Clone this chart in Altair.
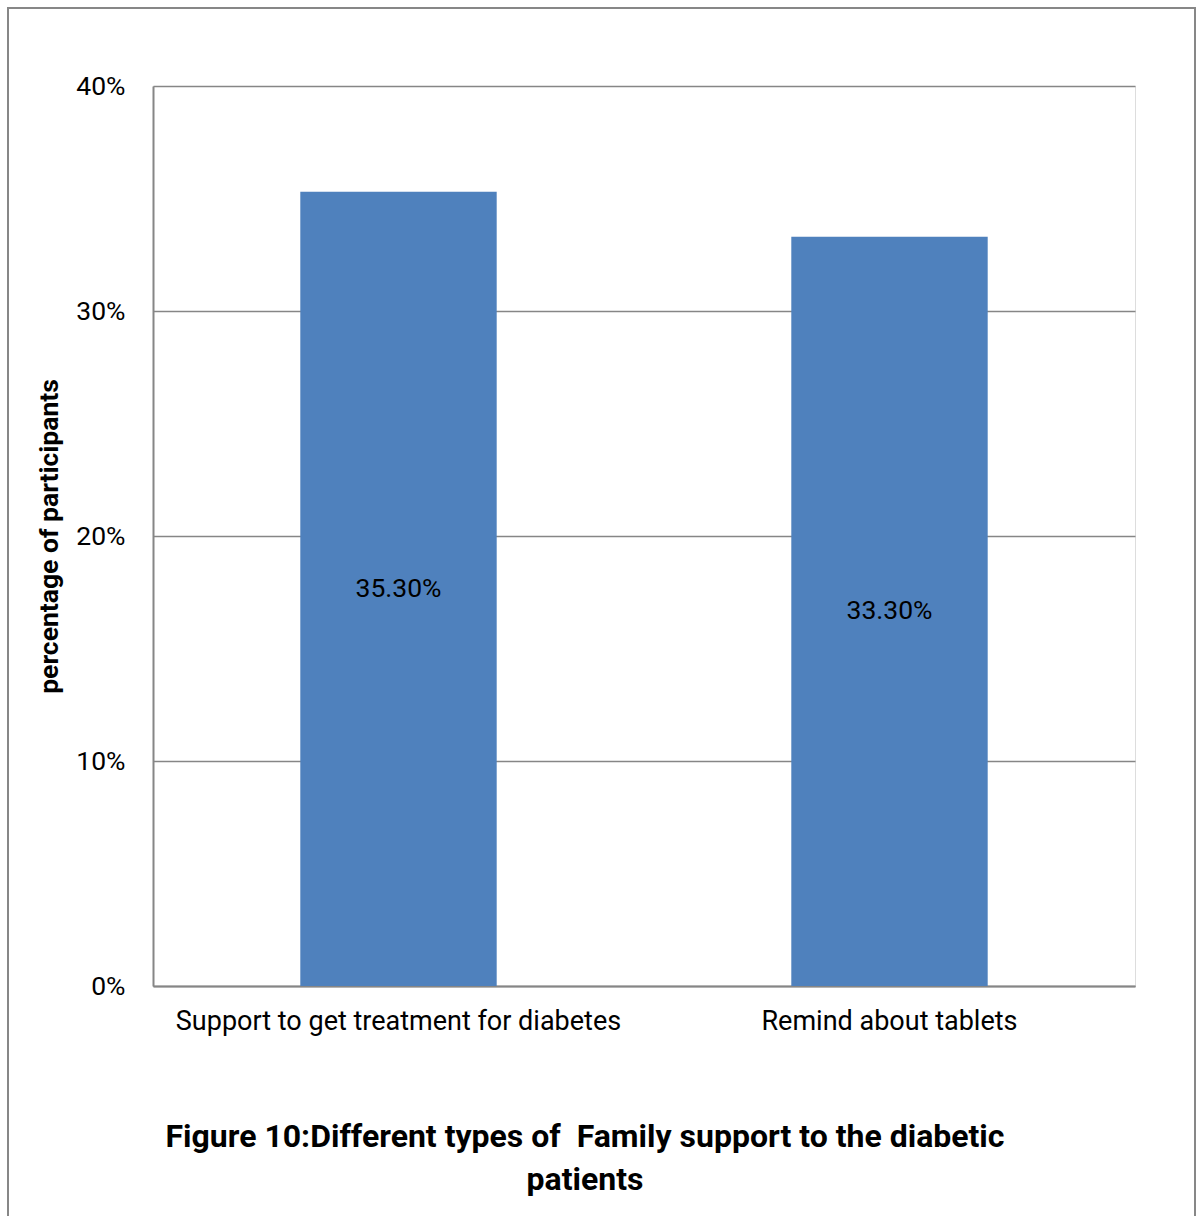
import altair as alt
import pandas as pd

categories = ["Support to get treatment for diabetes", "Remind about tablets"]
values = [35.3, 33.3]
labels = ["35.30%", "33.30%"]
title_lines = ["Figure 10:Different types of\u00a0 Family support to the diabetic", "patients"]

df = pd.DataFrame({"cat": categories, "val": [v / 100 for v in values], "label": labels})
df["mid"] = df["val"] / 2

FONT = "Roboto"

x = alt.X("cat:N", sort=categories, title=None,
          scale=alt.Scale(paddingInner=0.6, paddingOuter=0.3),
          axis=alt.Axis(labelAngle=0, labelFontSize=27, labelFont=FONT, labelColor="#000000",
                        labelLimit=0, ticks=False, domainColor="#868686", domainWidth=2,
                        labelPadding=22))

bars = alt.Chart(df).mark_bar(color="#4F81BD").encode(
    x=x,
    y=alt.Y("val:Q", title="percentage of participants",
            scale=alt.Scale(domain=[0, 0.4]),
            axis=alt.Axis(format=".0%", values=[0, 0.1, 0.2, 0.3, 0.4], ticks=False,
                          labelFontSize=26.5, labelFont=FONT, labelColor="#000000", labelPadding=28,
                          domainColor="#868686", domainWidth=2, gridColor="#868686", gridWidth=1.5,
                          titleFont=FONT, titleFontSize=26.5, titleFontWeight="bold", titleColor="#000000",
                          titlePadding=12)),
)

text = alt.Chart(df).mark_text(fontSize=26.5, font=FONT, color="#000000").encode(
    x=alt.X("cat:N", sort=categories),
    y=alt.Y("mid:Q"),
    text="label:N",
)

frame = alt.Chart(df).mark_rect(fill=None, stroke="#878787", strokeWidth=2).encode(
    x=alt.value(-145), x2=alt.value(1042), y=alt.value(-78), y2=alt.value(1250)
)

title_df = pd.DataFrame({"t": [title_lines]})
title = alt.Chart(title_df).mark_text(
    font=FONT, fontSize=32, fontWeight="bold", color="#000000",
    align="center", baseline="alphabetic", lineHeight=43,
).encode(x=alt.value(432), y=alt.value(1061), text="t")

chart = alt.layer(frame, bars, text, title).properties(
    width=982, height=900,
    autosize=alt.AutoSizeParams(type="none"),
    padding={"left": 153, "top": 86, "right": 62, "bottom": 230},
).configure_view(stroke=None).configure(background="white")

chart.save("out.html", embed_options={"renderer": "svg", "actions": False})
